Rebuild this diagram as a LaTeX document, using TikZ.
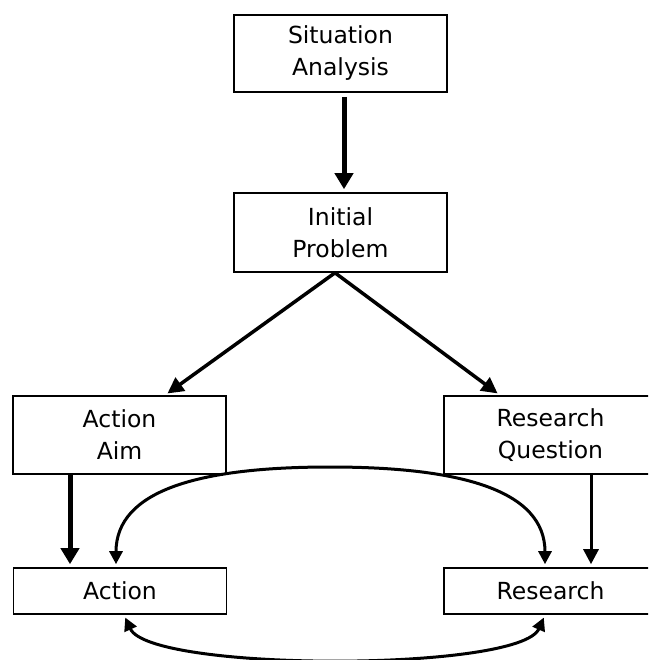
\documentclass[tikz,border=0pt]{standalone}
\usepackage{fontspec}
\setmainfont{DejaVu Sans}
\usetikzlibrary{arrows.meta}

\tikzset{
  stage/.style={draw=black, line width=1.6pt, fill=white, minimum width=213pt,
    inner sep=0pt, align=center, font=\fontsize{23.5pt}{32pt}\selectfont},
  boldflow/.style={line width=5pt, -{Triangle[length=16pt,width=18pt]},
    shorten >=3pt, shorten <=4pt},
  splitflow/.style={line width=3.5pt, -{Triangle[length=16pt,width=16pt]},
    shorten >=3pt},
  thinflow/.style={line width=3pt, -{Triangle[length=15pt,width=15pt]},
    shorten >=3pt, shorten <=3pt},
  cycleflow/.style={line width=3pt,
    {Triangle[length=13pt,width=13pt]}-{Triangle[length=13pt,width=13pt]},
    shorten >=3pt, shorten <=3pt}
}

\begin{document}
\begin{tikzpicture}[x=1pt, y=-1pt]
  \useasboundingbox (0,0) rectangle (648,660);
  \clip (0,0) rectangle (648,660);
  \fill[white] (0,0) rectangle (648,660);

  % process stages
  \node[stage, minimum height=77pt] (sit)  at (340.5,53.5) {Situation\\Analysis};
  \node[stage, minimum height=79pt] (init) at (340.5,232.5) {Initial\\Problem};
  \node[stage, minimum height=78pt] (aim)  at (119.5,435) {Action\\Aim};
  \node[stage, minimum height=78pt] (rq)   at (550.5,435) {Research\\Question};
  \node[stage, minimum height=46pt] (act)  at (120,591) {Action};
  \node[stage, minimum height=46pt] (res)  at (550.5,591) {Research};

  % top-down flow
  \draw[boldflow] ([xshift=3.5pt]sit.south) -- ([xshift=3.5pt]init.north);
  \draw[splitflow] ([xshift=-5.5pt]init.south) -- ([xshift=45.5pt]aim.north);
  \draw[splitflow] ([xshift=-5.5pt]init.south) -- ([xshift=-50.5pt]rq.north);
  \draw[boldflow, shorten <=0pt] ([xshift=-49.5pt]aim.south) -- ([xshift=-50pt]act.north);
  \draw[thinflow, shorten <=0pt] ([xshift=40.5pt]rq.south) -- ([xshift=40.5pt]res.north);

  % action-research cycle
  \draw[cycleflow] ([xshift=-4pt]act.north)
    .. controls (116,490) and (200,467) .. (330,467)
    .. controls (460,467) and (545,490) .. ([xshift=-5.5pt]res.north);
  \draw[cycleflow] ([xshift=4pt]act.south)
    .. controls (150,672) and (520,672) .. ([xshift=-5.5pt]res.south);
\end{tikzpicture}
\end{document}
